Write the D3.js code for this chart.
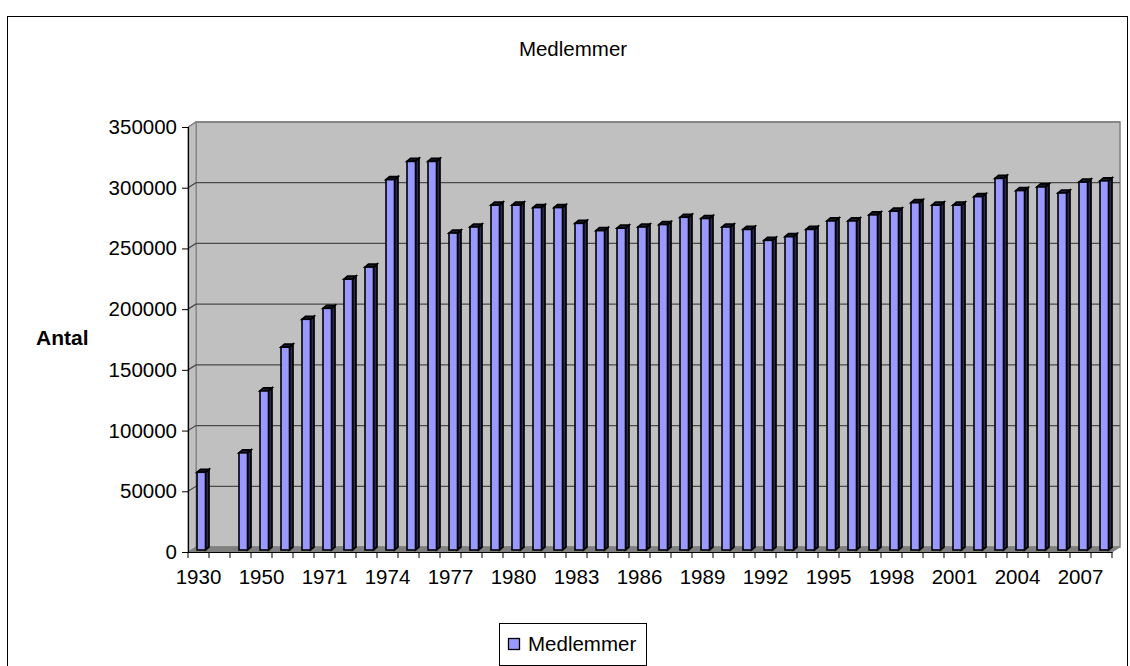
<!DOCTYPE html>
<html><head><meta charset="utf-8">
<script src="https://cdn.jsdelivr.net/npm/d3@7"></script>
<style>body{margin:0;background:#fff}svg{display:block;font-family:"Liberation Sans",Arial,sans-serif}</style>
</head><body><svg id="c" width="1130" height="666"></svg>
<script>
const categories = ["1930","1940","1945","1950","1960","1970","1971","1972","1973","1974","1975","1976","1977","1978","1979","1980","1981","1982","1983","1984","1985","1986","1987","1988","1989","1990","1991","1992","1993","1994","1995","1996","1997","1998","1999","2000","2001","2002","2003","2004","2005","2006","2007","2008"];
const members = [64000,null,80000,131000,167000,190000,199000,223000,233000,305000,320000,320000,261000,266000,284000,284000,282000,282000,269000,263000,265000,266000,268000,274000,273000,266000,264000,255000,258000,264000,271000,271000,276000,279000,286000,284000,284000,291000,306000,296000,299000,294000,303000,304000];
const xTickLabels = ["1930","1950","1971","1974","1977","1980","1983","1986","1989","1992","1995","1998","2001","2004","2007"];
const yTicks = [0,50000,100000,150000,200000,250000,300000,350000];
const seriesName = "Medlemmer";
const titleText = "Medlemmer";
const yTitle = "Antal";

const svg = d3.select("#c");
const FS = 20.5;
const WX = 8, WY = -5;        // wall depth offset
const BX = 3.5, BY = -3;      // bar depth
const BOFF = 2;               // bar base offset (mid depth)

const x = d3.scaleBand().domain(categories).range([188, 1112]).padding(0);
const y = d3.scaleLinear().domain([0, 350000]).range([552, 127]);
const x0 = x.range()[0], x1 = x.range()[1];

// outer border
svg.append("rect").attr("x",7.5).attr("y",16.5).attr("width",1120).attr("height",700)
  .attr("fill","#fff").attr("stroke","#000").attr("stroke-width",1);

// back wall
svg.append("rect").attr("x",x0+WX).attr("y",y(350000)+WY).attr("width",x1-x0).attr("height",y(0)-y(350000))
  .attr("fill","#C0C0C0").attr("stroke","#808080").attr("stroke-width",1.5);
// side wall
svg.append("path").attr("d",`M${x0},${y(0)}L${x0},${y(350000)}L${x0+WX},${y(350000)+WY}L${x0+WX},${y(0)+WY}Z`)
  .attr("fill","#C0C0C0").attr("stroke","#808080").attr("stroke-width",1);
// floor
svg.append("path").attr("d",`M${x0},${y(0)}L${x1},${y(0)}L${x1+WX},${y(0)+WY}L${x0+WX},${y(0)+WY}Z`)
  .attr("fill","#808080").attr("stroke","#808080").attr("stroke-width",1);

// gridlines
const grid = svg.append("g");
yTicks.filter(t=>t>0).forEach(t=>{
  grid.append("path").attr("d",`M${x0},${y(t)}L${x0+WX},${y(t)+WY}L${x1+WX},${y(t)+WY}`)
    .attr("fill","none").attr("stroke", t===350000?"#808080":"#4a4a4a").attr("stroke-width",1.3);
});

// bars
const bars = svg.append("g");
categories.forEach((c,i)=>{
  const v = members[i];
  if (v == null) return;
  const bx = x(c) + 9, bw = 8.5;
  const top = y(v) - BOFF, bot = y(0) - BOFF;
  // side
  bars.append("path").attr("d",`M${bx+bw},${bot}L${bx+bw},${top}L${bx+bw+BX},${top+BY}L${bx+bw+BX},${bot+BY}Z`)
    .attr("fill","#2a2a55").attr("stroke","#000").attr("stroke-width",1.7);
  // top
  bars.append("path").attr("d",`M${bx},${top}L${bx+bw},${top}L${bx+bw+BX},${top+BY}L${bx+BX},${top+BY}Z`)
    .attr("fill","#1a1a33").attr("stroke","#000").attr("stroke-width",1.7);
  // front
  bars.append("rect").attr("x",bx).attr("y",top).attr("width",bw).attr("height",bot-top)
    .attr("fill","#9999FF").attr("stroke","#000").attr("stroke-width",1.6);
});

// y axis
const yAxis = d3.axisLeft(y).tickValues(yTicks).tickSize(6).tickPadding(5).tickFormat(d3.format("d"));
const ya = svg.append("g").attr("transform",`translate(${x0},0)`).call(yAxis);
ya.select(".domain").attr("stroke","#000").attr("stroke-width",1.2);
ya.selectAll(".tick line").attr("stroke","#000");
ya.selectAll("text").attr("font-size",FS).attr("font-family","Liberation Sans, Arial, sans-serif").attr("fill","#000");

// x axis
const xAxis = d3.axisBottom(x).tickSize(0).tickFormat(d => xTickLabels.includes(d) ? d : "");
const xa = svg.append("g").attr("transform",`translate(0,${y(0)})`).call(xAxis);
xa.select(".domain").attr("stroke","#000").attr("stroke-width",1.2);
xa.selectAll("text").attr("font-size",FS).attr("font-family","Liberation Sans, Arial, sans-serif").attr("fill","#000").attr("dy",null).attr("y",32);
// category boundary ticks
const bounds = categories.map(c=>x(c)).concat([x1]);
xa.selectAll(".btick").data(bounds).enter().append("line").attr("class","btick")
  .attr("x1",d=>d).attr("x2",d=>d).attr("y1",0).attr("y2",6).attr("stroke","#000");

// title
svg.append("text").attr("x",573).attr("y",56).attr("text-anchor","middle").attr("font-size",FS).text(titleText);
// y title
svg.append("text").attr("x",36).attr("y",345).attr("font-size",21).attr("font-weight","bold").text(yTitle);

// legend
const lg = svg.append("g");
lg.append("rect").attr("x",499.5).attr("y",623.5).attr("width",147).attr("height",42).attr("fill","#fff").attr("stroke","#000");
lg.append("rect").attr("x",508.5).attr("y",638.5).attr("width",11).attr("height",11).attr("fill","#9999FF").attr("stroke","#000").attr("stroke-width",1.3);
lg.append("text").attr("x",528).attr("y",651).attr("font-size",FS).text(seriesName);
</script></body></html>
